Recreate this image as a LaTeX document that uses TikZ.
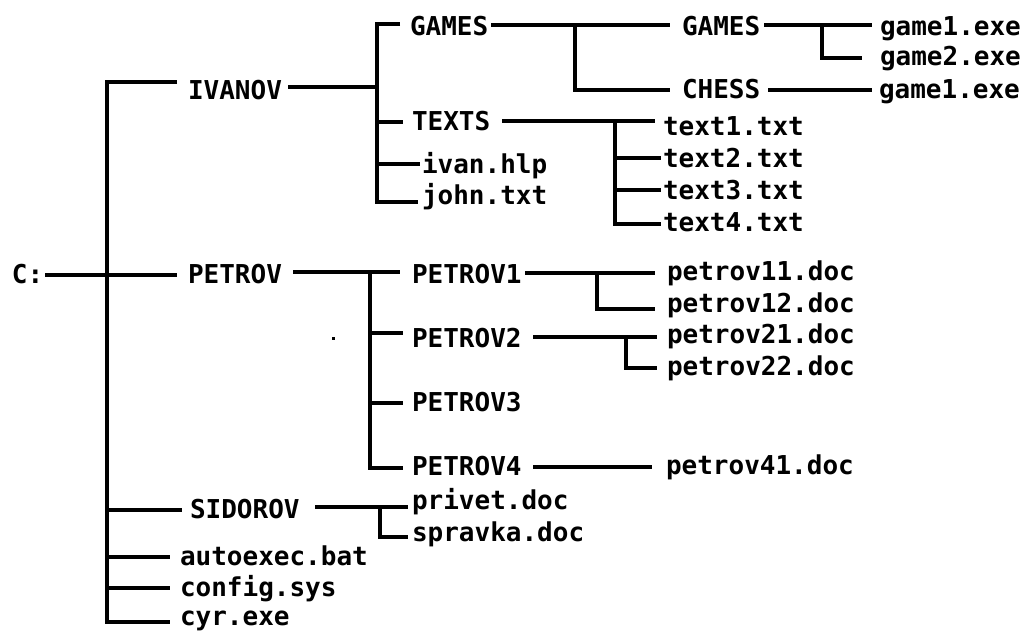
\documentclass[tikz,border=0pt]{standalone}
\usepackage{fontspec}
\newfontfamily\treefont{DejaVu Sans Mono}
\begin{document}
\begin{tikzpicture}[x=1pt,y=-1pt,
  lbl/.style={anchor=base west,inner sep=0pt,outer sep=0pt,font=\treefont\bfseries\fontsize{26}{26}\selectfont},
  ln/.style={line width=3.2pt,line join=miter,line cap=butt}]
\useasboundingbox (0,0) rectangle (1026,632);
% texts
\node[lbl] (c) at (12,283) {C:};
\node[lbl] (ivanov) at (188,99) {IVANOV};
\node[lbl] (petrov) at (188,283) {PETROV};
\node[lbl] (sidorov) at (190,518) {SIDOROV};
\node[lbl] (autoexec) at (180,565) {autoexec.bat};
\node[lbl] (config) at (180,596) {config.sys};
\node[lbl] (cyr) at (180,625) {cyr.exe};
\node[lbl] (games) at (410,35) {GAMES};
\node[lbl] (texts) at (412,130) {TEXTS};
\node[lbl] (ivanhlp) at (422,173) {ivan.hlp};
\node[lbl] (john) at (422,204) {john.txt};
\node[lbl] (gamesb) at (682,35) {GAMES};
\node[lbl] (chess) at (682,98) {CHESS};
\node[lbl] (gameA) at (880,35) {game1.exe};
\node[lbl] (gameB) at (880,65) {game2.exe};
\node[lbl] (gameC) at (879,98) {game1.exe};
\node[lbl] (textA) at (663,135) {text1.txt};
\node[lbl] (textB) at (663,167) {text2.txt};
\node[lbl] (textC) at (663,199) {text3.txt};
\node[lbl] (textD) at (663,231) {text4.txt};
\node[lbl] (pA) at (412,283) {PETROV1};
\node[lbl] (pB) at (412,347) {PETROV2};
\node[lbl] (pC) at (412,411) {PETROV3};
\node[lbl] (pD) at (412,475) {PETROV4};
\node[lbl] (pAA) at (667,280) {petrov11.doc};
\node[lbl] (pAB) at (667,312) {petrov12.doc};
\node[lbl] (pBA) at (667,343) {petrov21.doc};
\node[lbl] (pBB) at (667,375) {petrov22.doc};
\node[lbl] (pDA) at (666,474) {petrov41.doc};
\node[lbl] (privet) at (412,509) {privet.doc};
\node[lbl] (spravka) at (412,541) {spravka.doc};
% connector end points
\coordinate (c1) at (45,275);  \coordinate (c2) at (177,275);
\coordinate (m1) at (177,82);  \coordinate (m2) at (107,82);
\coordinate (m3) at (107,622); \coordinate (m4) at (170,622);
\coordinate (s1) at (107,510); \coordinate (s2) at (182,510);
\coordinate (a1) at (107,557); \coordinate (a2) at (170,557);
\coordinate (f1) at (107,588); \coordinate (f2) at (170,588);
\coordinate (i1) at (288,87);  \coordinate (i2) at (377,87);
\coordinate (v1) at (400,24);  \coordinate (v2) at (377,24);
\coordinate (v3) at (377,202); \coordinate (v4) at (418,202);
\coordinate (t1) at (377,122); \coordinate (t2) at (403,122);
\coordinate (h1) at (377,164); \coordinate (h2) at (420,164);
\coordinate (g1) at (491,25);  \coordinate (g2) at (670,25);
\coordinate (g3) at (575,25);  \coordinate (g4) at (575,90);  \coordinate (g5) at (670,90);
\coordinate (k1) at (764,25);  \coordinate (k2) at (872,25);
\coordinate (k3) at (822,25);  \coordinate (k4) at (822,58);  \coordinate (k5) at (862,58);
\coordinate (ch1) at (768,90); \coordinate (ch2) at (872,90);
\coordinate (x1) at (502,121); \coordinate (x2) at (655,121);
\coordinate (x3) at (615,121); \coordinate (x4) at (615,224); \coordinate (x5) at (661,224);
\coordinate (x6) at (615,158); \coordinate (x7) at (661,158);
\coordinate (x8) at (615,190); \coordinate (x9) at (661,190);
\coordinate (p1) at (293,272); \coordinate (p2) at (400,272);
\coordinate (p3) at (370,272); \coordinate (p4) at (370,468); \coordinate (p5) at (403,468);
\coordinate (p6) at (370,333); \coordinate (p7) at (403,333);
\coordinate (p8) at (370,403); \coordinate (p9) at (403,403);
\coordinate (q1) at (525,273); \coordinate (q2) at (655,273);
\coordinate (q3) at (597,273); \coordinate (q4) at (597,309); \coordinate (q5) at (655,309);
\coordinate (r1) at (533,337); \coordinate (r2) at (657,337);
\coordinate (r3) at (626,337); \coordinate (r4) at (626,368); \coordinate (r5) at (657,368);
\coordinate (u1) at (533,467); \coordinate (u2) at (652,467);
\coordinate (w1) at (315,507); \coordinate (w2) at (408,507);
\coordinate (w3) at (380,507); \coordinate (w4) at (380,537); \coordinate (w5) at (408,537);
% connectors
\draw[ln] (c1) -- (c2);
\draw[ln] (m1) -- (m2) -- (m3) -- (m4);
\draw[ln] (s1) -- (s2);
\draw[ln] (a1) -- (a2);
\draw[ln] (f1) -- (f2);
\draw[ln] (i1) -- (i2);
\draw[ln] (v1) -- (v2) -- (v3) -- (v4);
\draw[ln] (t1) -- (t2);
\draw[ln] (h1) -- (h2);
\draw[ln] (g1) -- (g2);
\draw[ln] (g3) -- (g4) -- (g5);
\draw[ln] (k1) -- (k2);
\draw[ln] (k3) -- (k4) -- (k5);
\draw[ln] (ch1) -- (ch2);
\draw[ln] (x1) -- (x2);
\draw[ln] (x3) -- (x4) -- (x5);
\draw[ln] (x6) -- (x7);
\draw[ln] (x8) -- (x9);
\draw[ln] (p1) -- (p2);
\draw[ln] (p3) -- (p4) -- (p5);
\draw[ln] (p6) -- (p7);
\draw[ln] (p8) -- (p9);
\draw[ln] (q1) -- (q2);
\draw[ln] (q3) -- (q4) -- (q5);
\draw[ln] (r1) -- (r2);
\draw[ln] (r3) -- (r4) -- (r5);
\draw[ln] (u1) -- (u2);
\draw[ln] (w1) -- (w2);
\draw[ln] (w3) -- (w4) -- (w5);
\fill (332,337) rectangle (334.5,339.5);
\end{tikzpicture}
\end{document}
